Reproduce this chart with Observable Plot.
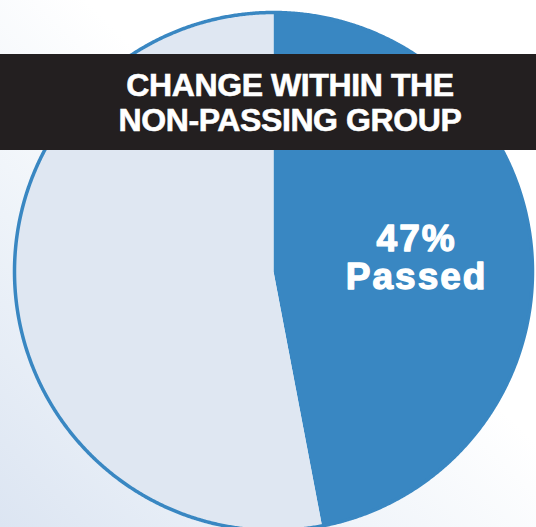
<!DOCTYPE html>
<html>
<head>
<meta charset="utf-8">
<script src="https://cdn.jsdelivr.net/npm/d3@7"></script>
<script src="https://cdn.jsdelivr.net/npm/@observablehq/plot@0.6"></script>
<style>
  html, body { margin: 0; padding: 0; background: #fff; }
  #wrap { position: relative; width: 536px; height: 527px; overflow: hidden;
    background: linear-gradient(to top right, #dce5f2 0%, #eef3f9 30%, #ffffff 58%); }
  #band { position: absolute; left: 0; top: 54px; width: 536px; height: 96px; background: #231f20;
    box-sizing: border-box; padding: 14px 0 0 44px; }
  #band div { color: #fff; font-family: "Liberation Sans", Arial, sans-serif; font-weight: bold;
    font-size: 32px; line-height: 35px; text-align: center; letter-spacing: -0.4px;
    -webkit-text-stroke: 0.6px #fff; }
  .lbl text { letter-spacing: 2px; }
</style>
</head>
<body>
<div id="wrap">
  <div id="chart"></div>
  <div id="band"><div>CHANGE WITHIN THE<br>NON-PASSING GROUP</div></div>
</div>
<script>
// Data
const categories = ["Passed", "Did not pass"];
const values = [47, 53];
const labels = ["47%\nPassed", ""];
const colors = ["#3987c2", "#dfe7f2"];

// Build wedge polygons from values (angles clockwise from 12 o'clock, unit radius)
const total = d3.sum(values);
const wedges = [];
const labelRows = [];
let start = 0;
values.forEach((v, i) => {
  const end = start + (v / total) * 2 * Math.PI;
  const steps = Math.max(2, Math.ceil((end - start) / 0.01));
  wedges.push({cat: categories[i], x: 0, y: 0});
  for (let k = 0; k <= steps; k++) {
    const a = start + (end - start) * k / steps;
    wedges.push({cat: categories[i], x: Math.sin(a), y: Math.cos(a)});
  }
  wedges.push({cat: categories[i], x: 0, y: 0});
  const mid = (start + end) / 2;
  labelRows.push({cat: categories[i], text: labels[i], x: 0.555 * Math.sin(mid), y: 0.555 * Math.cos(mid)});
  start = end;
});
const outline = d3.range(0, 2 * Math.PI + 0.005, 0.005).map(a => ({x: Math.sin(a), y: Math.cos(a)}));

const chart = Plot.plot({
  width: 536,
  height: 527,
  margin: 0,
  style: {background: "transparent", overflow: "visible"},
  x: {domain: [-1, 1], range: [14, 532], axis: null},
  y: {domain: [-1, 1], range: [530, 12], axis: null},
  color: {domain: categories, range: colors},
  marks: [
    Plot.line(wedges, {x: "x", y: "y", z: "cat", fill: "cat", stroke: "none", curve: "linear-closed"}),
    Plot.line(outline, {x: "x", y: "y", stroke: "#3987c2", strokeWidth: 3.5, curve: "linear-closed"}),
    Plot.text(labelRows.filter(d => d.text), {
      x: "x", y: "y", text: "text", fill: "white", stroke: "white", strokeWidth: 1.3,
      fontSize: 37, fontWeight: "bold", className: "lbl",
      fontFamily: "Liberation Sans, Arial, sans-serif", lineHeight: 1.03
    })
  ]
});
document.getElementById("chart").appendChild(chart);
</script>
</body>
</html>
